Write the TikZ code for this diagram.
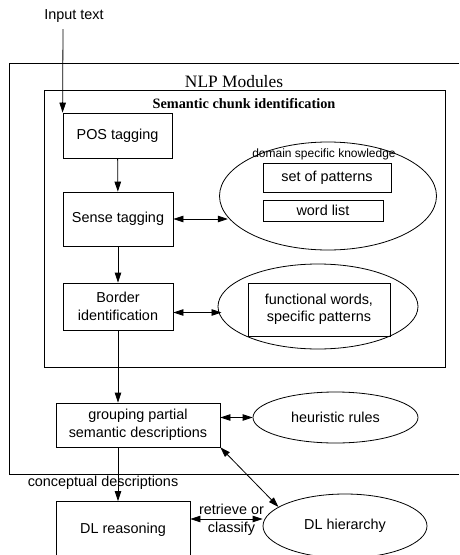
\documentclass[tikz,border=0pt]{standalone}
\usepackage{fontspec}
\setmainfont{Liberation Serif}
\setsansfont{Liberation Sans}
\usetikzlibrary{shapes.geometric,arrows.meta}

\begin{document}
\begin{tikzpicture}[x=1pt,y=-1pt,
        every node/.style={font=\fontsize{14.4}{17.5}\selectfont\sffamily, inner sep=0pt, align=center},
        box/.style={draw, line width=0.8pt, rectangle},
        blob/.style={draw, line width=0.8pt, ellipse},
        link/.style={line width=0.8pt, -{Triangle[length=10pt,width=6.5pt]}},
        both/.style={line width=0.8pt, {Triangle[length=10pt,width=6.5pt]}-{Triangle[length=10pt,width=6.5pt]}}]

        \useasboundingbox (0,0) rectangle (459,555);
        \clip (0,0) rectangle (459,555);

        % frames
        \draw[line width=0.8pt] (459,63) -- (9,63) -- (9,474) -- (459,474);
        \draw[line width=0.8pt] (44,90) rectangle (445,367);
        \node[font=\fontsize{17.4}{20}\selectfont\rmfamily] (nlp) at (234,82) {NLP Modules};
        \node[font=\fontsize{14.3}{17}\selectfont\rmfamily\bfseries] (chunk) at (244,104) {Semantic chunk identification};

        \node (input) at (74,16) {Input text};
        \coordinate (start) at (63,29);

        \node[box, minimum width=109pt, minimum height=45pt] (pos) at (117.5,135.5) {POS tagging};
        \node[box, minimum width=110pt, minimum height=54pt] (sense) at (118,219) {Sense tagging};
        \node[box, minimum width=110pt, minimum height=47pt] (border) at (118,306.5) {Border\\identification};

        \node[blob, minimum width=217pt, minimum height=108pt] (know) at (328,196) {};
        \node[font=\fontsize{12}{14}\selectfont\sffamily] (knowtitle) at (324,154) {domain specific knowledge};
        \node[box, minimum width=128pt, minimum height=29pt] (patterns) at (327,177.5) {set of patterns};
        \node[box, minimum width=120pt, minimum height=21pt] (words) at (323,210.5) {word list};

        \node[blob, minimum width=200pt, minimum height=85pt] (func) at (318,306.5) {};
        \node[box, minimum width=142pt, minimum height=53pt] (funcwords) at (319,309.5) {functional words,\\specific patterns};

        \node[box, minimum width=164pt, minimum height=44pt] (group) at (138,425) {grouping partial\\semantic descriptions};
        \node[blob, minimum width=165pt, minimum height=51pt] (heur) at (335.5,417.5) {heuristic rules};

        \node (concept) at (103,483) {conceptual descriptions};
        \node[box, minimum width=134pt, minimum height=57pt] (reason) at (123,530) {DL reasoning};
        \node[blob, minimum width=164pt, minimum height=64pt] (hier) at (345,526) {DL hierarchy};
        \node[font=\fontsize{14.4}{18}\selectfont\sffamily] (retrieve) at (231.5,520) {retrieve or\\classify};

        \draw[link] (start) -- (pos.north west);
        \draw[link] (pos) -- (sense);
        \draw[link] (sense) -- (border);
        \draw[both] (sense.east) -- (sense.east -| know.192);
        \draw[both] ([yshift=-6pt]border.east) -- ([yshift=-6pt]border.east -| func.187);
        \draw[link] (border.south) -- (border.south |- group.north);
        \draw[both] (group.east |- heur.west) -- (heur.west);
        \draw[link] ([xshift=-20pt]group.south) -- ([xshift=-20pt]group.south |- reason.north);
        \draw[both] ([yshift=11pt]reason.east) -- ([yshift=11pt]reason.east -| hier.west);
        \draw[both] (group.south east) -- (hier.164);

    \end{tikzpicture}
\end{document}
